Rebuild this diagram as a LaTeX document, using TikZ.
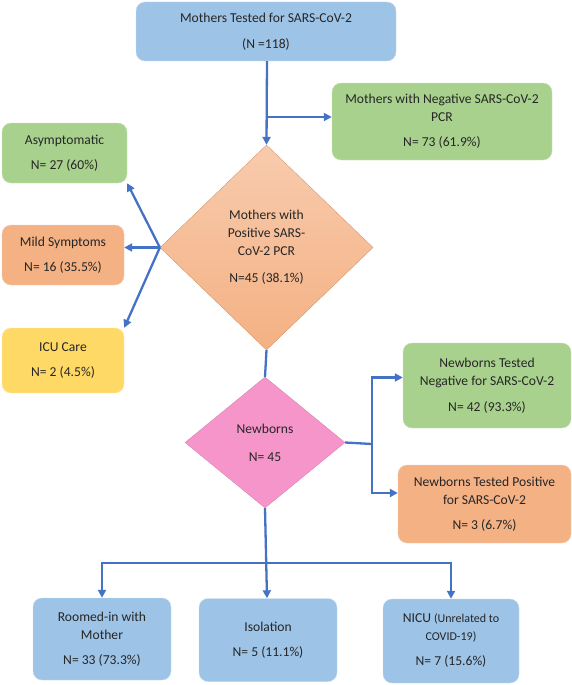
\documentclass[tikz,border=0pt]{standalone}
\usepackage{fontspec}
\setmainfont{Carlito}
\usetikzlibrary{shapes.geometric,arrows.meta}

\definecolor{boxblue}{HTML}{9DC3E6}
\definecolor{boxgreen}{HTML}{A9D18E}
\definecolor{boxorange}{HTML}{F4B183}
\definecolor{boxyellow}{HTML}{FFD966}
\definecolor{boxpink}{HTML}{F595CA}
\definecolor{peachtop}{HTML}{F8CBAD}
\definecolor{linkblue}{HTML}{4472C4}

\tikzset{
	box/.style={rectangle, rounded corners=9pt, fill=#1, draw=#1!60!white, align=center, inner sep=2pt, text=black!85},
	decision/.style={diamond, fill=#1, draw=#1!85!black, line width=0.3pt, align=center, inner sep=0pt, text=black!85},
	link/.style={linkblue, line width=2.3pt},
	arrow/.style={link, -{Triangle[length=8pt,width=8pt]}}
}

\begin{document}
\begin{tikzpicture}[x=1pt,y=-1pt,font=\fontsize{13.6}{18}\selectfont]
		\useasboundingbox (0,0) rectangle (572,685);
		% mothers
		\node[box=boxblue, minimum width=260pt, minimum height=59pt] (tested) at (266,31.5) {Mothers Tested for SARS-CoV-2\\[8pt](N =118)};
		\node[box=boxgreen, minimum width=220pt, minimum height=77pt] (motherneg) at (442,121.5) {Mothers with Negative SARS-CoV-2\\PCR\\[7pt]N= 73 (61.9\%)};
		\node[decision=boxorange, top color=peachtop, bottom color=boxorange, minimum width=213pt, minimum height=205pt] (motherpos) at (266.5,247.5) {Mothers with\\Positive SARS-\\CoV-2 PCR\\[9pt]N=45 (38.1\%)};
		\node[box=boxgreen, minimum width=125pt, minimum height=60pt] (asym) at (64.5,153) {Asymptomatic\\[7pt]N= 27 (60\%)};
		\node[box=boxorange, minimum width=122pt, minimum height=60pt] (mild) at (63,255) {Mild Symptoms\\[7pt]N= 16 (35.5\%)};
		\node[box=boxyellow, minimum width=122pt, minimum height=65pt] (icu) at (63,360.5) {ICU Care\\[7pt]N= 2 (4.5\%)};
		% newborns
		\node[decision=boxpink, minimum width=160pt, minimum height=131pt] (newborns) at (265,442.5) {Newborns\\[10pt]N= 45};
		\node[box=boxgreen, minimum width=168pt, minimum height=85pt] (nbneg) at (487,385.5) {Newborns Tested\\Negative for SARS-CoV-2\\[8pt]N= 42 (93.3\%)};
		\node[box=boxorange, minimum width=173pt, minimum height=78pt] (nbpos) at (484.5,504) {Newborns Tested Positive\\for SARS-CoV-2\\[7pt]N= 3 (6.7\%)};
		\node[box=boxblue, minimum width=138pt, minimum height=82pt] (roomed) at (102,639) {Roomed-in with\\Mother\\[7pt]N= 33 (73.3\%)};
		\node[box=boxblue, minimum width=138pt, minimum height=83pt] (isolation) at (268,640) {Isolation\\[7pt]N= 5 (11.1\%)};
		\node[box=boxblue, minimum width=136pt, minimum height=84pt] (nicu) at (451,641) {NICU {\fontsize{12}{18}\selectfont(Unrelated to}\\{\fontsize{12}{18}\selectfont COVID-19)}\\[7pt]N= 7 (15.6\%)};

		% connectors
		\coordinate (split) at (267,117);
		\draw[arrow] (tested.south -| split) -- (motherpos.north);
		\draw[arrow] (split) -- (split -| motherneg.west);
		\draw[arrow] (motherpos.west) -- (asym.south east);
		\draw[arrow] (motherpos.west) -- (motherpos.west -| mild.east);
		\draw[arrow] (motherpos.west) -- (icu.north east);
		\draw[link] (motherpos.south) -- (newborns.north);
		\coordinate (fork) at (372,444);
		\draw[link] (newborns.east) -- (fork);
		\draw[arrow] (fork) |- ([yshift=8pt]nbneg.west);
		\draw[arrow] (fork) |- ([yshift=11pt]nbpos.west);
		\coordinate (bar) at (267,563);
		\draw[arrow] (newborns.south) -- (isolation.north -| bar);
		\draw[arrow] (bar) -| (roomed.north);
		\draw[arrow] (bar) -| (nicu.north);
	\end{tikzpicture}
\end{document}
